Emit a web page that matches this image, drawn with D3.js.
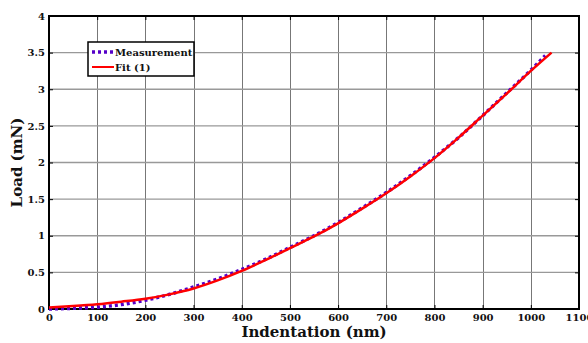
<!DOCTYPE html>
<html>
<head>
<meta charset="utf-8">
<script src="https://cdn.jsdelivr.net/npm/d3@7"></script>
<style>
  body { margin: 0; background: #fff; }
  svg { display: block; }
  svg text { font-family: 'DejaVu Serif', serif; font-weight: bold; fill: #111; }
</style>
</head>
<body>
<div id="chart"></div>
<script>
// Indentation (nm)
const fitDepth = [0, 50, 100, 150, 200, 250, 300, 350, 400, 450, 500, 550, 600, 650, 700, 750, 800, 850, 900, 950, 1000, 1043];
// Load (mN)
const fitLoad = [0.02, 0.04, 0.065, 0.10, 0.14, 0.20, 0.28, 0.39, 0.52, 0.67, 0.83, 0.99, 1.17, 1.37, 1.58, 1.81, 2.06, 2.34, 2.64, 2.94, 3.25, 3.5];

const measDepth = [0, 50, 100, 150, 200, 250, 300, 350, 400, 450, 500, 550, 600, 650, 700, 750, 800, 850, 900, 950, 1000, 1030];
const measLoad = [0.0, 0.01, 0.025, 0.06, 0.12, 0.20, 0.30, 0.41, 0.54, 0.68, 0.84, 1.00, 1.18, 1.38, 1.59, 1.82, 2.07, 2.34, 2.64, 2.95, 3.26, 3.46];

const xTicks = [0, 100, 200, 300, 400, 500, 600, 700, 800, 900, 1000, 1100];
const yTicks = [0, 0.5, 1, 1.5, 2, 2.5, 3, 3.5, 4];

const seriesNames = ['Measurement', 'Fit (1)'];

// Set up dimensions
const width = 588;
const height = 343;
const margin = { top: 16, right: 9, bottom: 34, left: 49 };

const svg = d3
  .select('#chart')
  .append('svg')
  .attr('width', width)
  .attr('height', height);

const x = d3.scaleLinear().domain([0, 1100]).range([margin.left, width - margin.right]);
const y = d3.scaleLinear().domain([0, 4]).range([height - margin.bottom, margin.top]);

/* Grid
=========================================================================*/
const grid = svg.append('g').attr('stroke', '#777').attr('stroke-width', 1);

grid
  .selectAll('line.v')
  .data(xTicks.slice(1, -1))
  .enter()
  .append('line')
  .attr('class', 'v')
  .attr('x1', (d) => Math.round(x(d)) + 0.5)
  .attr('x2', (d) => Math.round(x(d)) + 0.5)
  .attr('y1', y(4))
  .attr('y2', y(0));

grid
  .selectAll('line.h')
  .data(yTicks.slice(1, -1))
  .enter()
  .append('line')
  .attr('class', 'h')
  .attr('x1', x(0))
  .attr('x2', x(1100))
  .attr('y1', (d) => y(d))
  .attr('y2', (d) => y(d))
  .attr('stroke', '#999')
  .attr('stroke-width', 1.4);

/* Axes
=========================================================================*/
const tickFont = (g) => g.selectAll('text').style('font-size', '10px');

svg
  .append('g')
  .attr('transform', `translate(0, ${y(0)})`)
  .call(d3.axisBottom(x).tickValues(xTicks).tickSize(-4).tickPadding(5).tickSizeOuter(0).tickFormat(d3.format('d')))
  .call((g) => g.select('.domain').remove())
  .call(tickFont);

svg
  .append('g')
  .attr('transform', `translate(${x(0)}, 0)`)
  .call(d3.axisLeft(y).tickValues(yTicks).tickSize(-4).tickPadding(4).tickSizeOuter(0).tickFormat((d) => String(d)))
  .call((g) => g.select('.domain').remove())
  .call(tickFont);

svg
  .append('g')
  .attr('transform', `translate(0, ${y(4)})`)
  .call(d3.axisTop(x).tickValues(xTicks).tickSize(-4).tickFormat('').tickSizeOuter(0))
  .call((g) => g.select('.domain').remove());

svg
  .append('g')
  .attr('transform', `translate(${x(1100)}, 0)`)
  .call(d3.axisRight(y).tickValues(yTicks).tickSize(-4).tickFormat('').tickSizeOuter(0))
  .call((g) => g.select('.domain').remove());

// Frame
svg
  .append('rect')
  .attr('x', x(0))
  .attr('y', y(4))
  .attr('width', x(1100) - x(0))
  .attr('height', y(0) - y(4))
  .attr('fill', 'none')
  .attr('stroke', '#000')
  .attr('stroke-width', 2);

/* Lines
=========================================================================*/
const line = d3
  .line()
  .x((d) => x(d[0]))
  .y((d) => y(d[1]))
  .curve(d3.curveMonotoneX);

svg
  .append('path')
  .datum(measDepth.map((d, i) => [d, measLoad[i]]))
  .attr('d', line)
  .attr('fill', 'none')
  .attr('stroke', '#5500c8')
  .attr('stroke-width', 3.5)
  .attr('stroke-dasharray', '3,3');

svg
  .append('path')
  .datum(fitDepth.map((d, i) => [d, fitLoad[i]]))
  .attr('d', line)
  .attr('fill', 'none')
  .attr('stroke', '#ff0000')
  .attr('stroke-width', 2.5);

/* Legend
=========================================================================*/
const legend = svg.append('g').attr('transform', 'translate(88, 42)');

legend
  .append('rect')
  .attr('width', 106)
  .attr('height', 34)
  .attr('fill', '#fff')
  .attr('stroke', '#000')
  .attr('stroke-width', 1.5);

const legendStyles = [
  { color: '#5500c8', width: 3.5, dash: '3,3' },
  { color: '#ff0000', width: 2, dash: null },
];

seriesNames.forEach((name, i) => {
  const row = legend.append('g').attr('transform', `translate(0, ${10 + i * 15})`);
  row
    .append('line')
    .attr('x1', 4)
    .attr('x2', 26)
    .attr('stroke', legendStyles[i].color)
    .attr('stroke-width', legendStyles[i].width)
    .attr('stroke-dasharray', legendStyles[i].dash);
  row
    .append('text')
    .attr('x', 27)
    .attr('y', 4)
    .style('font-size', '10px')
    .text(name);
});

/* Labels
=========================================================================*/
svg
  .append('text')
  .attr('x', (x(0) + x(1100)) / 2)
  .attr('y', 337)
  .attr('text-anchor', 'middle')
  .style('font-size', '15px')
  .text('Indentation (nm)');

svg
  .append('text')
  .attr('transform', `translate(22, ${(y(0) + y(4)) / 2}) rotate(-90)`)
  .attr('text-anchor', 'middle')
  .style('font-size', '15px')
  .text('Load (mN)');
</script>
</body>
</html>
